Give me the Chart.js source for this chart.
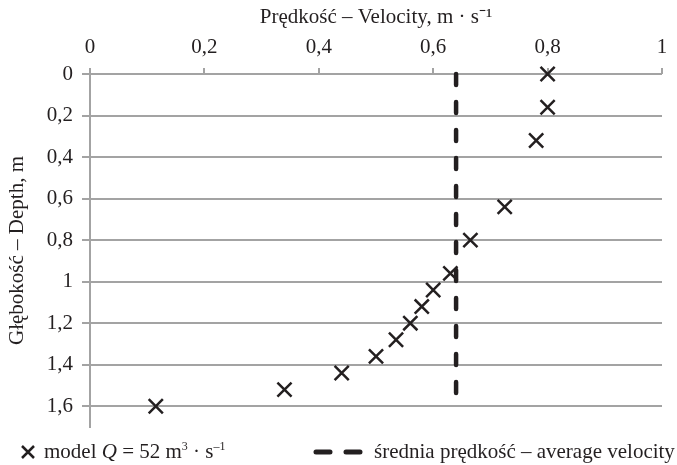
<!DOCTYPE html>
<html>
<head>
<meta charset="utf-8">
<script src="https://cdn.jsdelivr.net/npm/chart.js@4.4.1/dist/chart.umd.min.js"></script>
<style>
  html, body { margin: 0; padding: 0; background: #fff; }
  #wrap { position: relative; width: 677px; height: 465px; }
  #legend {
    position: absolute; left: 0; top: 438px; width: 677px; height: 27px;
    font-family: "Liberation Serif", serif; font-size: 21px; color: #231f20;
    white-space: nowrap;
  }
  .item { position: absolute; top: 0; display: flex; align-items: center; height: 27px; }
  sup { font-size: 12px; vertical-align: 8px; line-height: 0; }
</style>
</head>
<body>
<div id="wrap">
  <canvas id="profileChart" width="677" height="465"></canvas>
  <div id="legend">
    <div class="item" style="left:20px">
      <svg width="16" height="16" style="margin-right:8px"><path d="M2 2 L14 14 M14 2 L2 14" stroke="#231f20" stroke-width="2.5"/></svg>
      <span>model <i>Q</i> = 52 m<sup>3</sup> · s<sup>–1</sup></span>
    </div>
    <div class="item" style="left:313px">
      <svg width="50" height="10" style="margin-right:11px"><line x1="3" y1="5" x2="47" y2="5" stroke="#231f20" stroke-width="5" stroke-linecap="round" stroke-dasharray="14 16"/></svg>
      <span>średnia prędkość – average velocity</span>
    </div>
  </div>
</div>
<script>
const depths = [0, 0.16, 0.32, 0.64, 0.8, 0.96, 1.04, 1.12, 1.2, 1.28, 1.36, 1.44, 1.52, 1.6];
const velocities = [0.8, 0.8, 0.78, 0.725, 0.665, 0.63, 0.6, 0.58, 0.56, 0.535, 0.5, 0.44, 0.34, 0.115];
const avgVelocity = 0.64;
const avgDepthRange = [0, 1.6];
const velocityTicks = [0, 0.2, 0.4, 0.6, 0.8, 1];
const depthTicks = [0, 0.2, 0.4, 0.6, 0.8, 1, 1.2, 1.4, 1.6];

const ink = "#231f20";
const gridGray = "#a3a3a3";
const font = { family: "'Liberation Serif', serif", size: 21 };
const fmt = (v) => String(Math.round(v * 10) / 10).replace(".", ",");

const ctx = document.getElementById("profileChart").getContext("2d");

new Chart(ctx, {
  type: "scatter",
  data: {
    datasets: [
      {
        label: "model",
        data: depths.map((d, i) => ({ x: velocities[i], y: d })),
        pointStyle: "crossRot",
        pointRadius: 10,
        pointBorderWidth: 2.5,
        borderColor: ink,
        backgroundColor: ink,
        showLine: false,
        clip: false,
      },
      {
        label: "average",
        data: avgDepthRange.map((d) => ({ x: avgVelocity, y: d })),
        showLine: true,
        borderColor: ink,
        borderWidth: 4.5,
        borderDash: [11, 17],
        borderCapStyle: "round",
        pointRadius: 0,
        clip: false,
      },
    ],
  },
  options: {
    responsive: false,
    animation: false,
    events: [],
    layout: { padding: { left: 0, top: 0, right: 15, bottom: 38 } },
    plugins: { legend: { display: false }, tooltip: { enabled: false } },
    scales: {
      x: {
        type: "linear",
        position: "top",
        min: 0,
        max: 1,
        afterBuildTicks: (scale) => {
          scale.ticks = velocityTicks.map((v) => ({ value: v }));
        },
        afterFit: (scale) => {
          scale.height = 74;
        },
        grid: {
          drawOnChartArea: false,
          color: gridGray,
          tickColor: gridGray,
          tickLength: 6,
          lineWidth: 2,
        },
        border: { display: false },
        ticks: {
          color: ink,
          font,
          padding: 8,
          maxRotation: 0,
          callback: (v) => fmt(v),
        },
        title: {
          display: true,
          text: "Prędkość – Velocity, m · s⁻¹",
          color: ink,
          font,
          padding: { top: 5, bottom: 0 },
        },
      },
      y: {
        type: "linear",
        reverse: true,
        min: 0,
        max: 1.7,
        afterBuildTicks: (scale) => {
          scale.ticks = depthTicks.map((v) => ({ value: v }));
        },
        afterFit: (scale) => {
          scale.width = 90;
        },
        grid: {
          color: gridGray,
          tickColor: gridGray,
          tickLength: 8,
          lineWidth: 2,
        },
        border: { display: true, color: gridGray, width: 2 },
        ticks: {
          color: ink,
          font,
          padding: 9,
          callback: (v) => fmt(v),
        },
        title: {
          display: true,
          text: "Głębokość – Depth, m",
          color: ink,
          font,
          padding: { top: 5, bottom: 0 },
        },
      },
    },
  },
});
</script>
</body>
</html>
